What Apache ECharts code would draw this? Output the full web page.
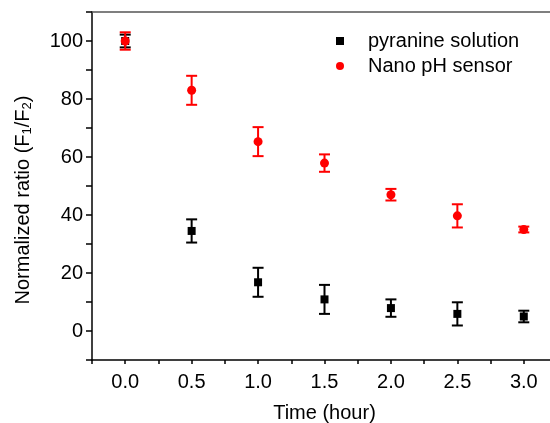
<!DOCTYPE html>
<html>
<head>
<meta charset="utf-8">
<script src="https://cdn.jsdelivr.net/npm/echarts@6/dist/echarts.min.js"></script>
<style>
  html, body { margin: 0; padding: 0; background: #fff; }
  #chart { width: 550px; height: 423px; }
</style>
</head>
<body>
<div id="chart"></div>
<script>
// hours
const times = [0, 0.5, 1.0, 1.5, 2.0, 2.5, 3.0];
// pyranine solution
const pyranineMean = [100, 34.5, 16.8, 10.9, 7.9, 5.9, 5.0];
const pyranineErr = [2.2, 4, 5, 5, 3, 4, 2];
// Nano pH sensor
const sensorMean = [100, 83.0, 65.3, 57.9, 47.0, 39.7, 35.0];
const sensorErr = [3, 5, 5, 3, 2, 4, 1];

const font = "'Liberation Sans', Arial, sans-serif";

function toPoints(means, errs) {
  return times.map((t, i) => [t, means[i], errs[i]]);
}

function errorBar(color) {
  return function (params, api) {
    const x = api.value(0);
    const y = api.value(1);
    const e = api.value(2);
    const hi = api.coord([x, y + e]);
    const lo = api.coord([x, y - e]);
    const w = 5.5;
    const style = { stroke: color, lineWidth: 2, fill: null };
    return {
      type: 'group',
      children: [
        { type: 'line', shape: { x1: hi[0], y1: hi[1], x2: lo[0], y2: lo[1] }, style: style },
        { type: 'line', shape: { x1: hi[0] - w, y1: hi[1], x2: hi[0] + w, y2: hi[1] }, style: style },
        { type: 'line', shape: { x1: lo[0] - w, y1: lo[1], x2: lo[0] + w, y2: lo[1] }, style: style }
      ]
    };
  };
}

const chart = echarts.init(document.getElementById('chart'));
chart.setOption({
  animation: false,
  textStyle: { fontFamily: font },
  grid: { left: 92, top: 12, bottom: 63, right: -7, outerBoundsMode: 'none', containLabel: false },
  legend: {
    orient: 'vertical',
    left: 331,
    top: 26,
    itemWidth: 8,
    itemHeight: 8,
    itemGap: 5,
    textStyle: { fontSize: 20, color: '#000', fontFamily: font, padding: [0, 0, 0, 19] },
    data: [
      { name: 'pyranine solution', icon: 'rect', itemStyle: { color: '#000' } },
      { name: 'Nano pH sensor', icon: 'circle', itemStyle: { color: '#ff0000' } }
    ]
  },
  xAxis: [
    {
      type: 'value',
      min: -0.25,
      max: 3.25,
      interval: 0.25,
      name: 'Time (hour)',
      nameLocation: 'middle',
      nameGap: 43,
      nameTextStyle: { fontSize: 20, color: '#000', fontFamily: font },
      axisLine: { onZero: false, lineStyle: { color: '#000', width: 1.5 } },
      axisTick: { length: 4, lineStyle: { color: '#000', width: 1.5 } },
      axisLabel: {
        fontSize: 20,
        color: '#000',
        margin: 12,
        formatter: v => (Math.abs(v * 2 - Math.round(v * 2)) < 1e-6 && v >= 0 && v <= 3) ? v.toFixed(1) : ''
      },
      splitLine: { show: false }
    },
    {
      type: 'value',
      position: 'top',
      min: -0.25,
      max: 3.25,
      axisLine: { onZero: false, lineStyle: { color: '#555', width: 1.5 } },
      axisTick: { show: false },
      axisLabel: { show: false },
      splitLine: { show: false }
    }
  ],
  yAxis: {
    type: 'value',
    min: -10,
    max: 110,
    interval: 10,
    name: '{a|Normalized ratio (F}{s|1}{a|/F}{s|2}{a|)}',
    nameLocation: 'middle',
    nameGap: 58,
    nameTextStyle: {
      padding: [0, 28, 0, 0],
      rich: {
        a: { fontSize: 20, color: '#000', fontFamily: font, lineHeight: 22 },
        s: { fontSize: 13, color: '#000', fontFamily: font, lineHeight: 13, verticalAlign: 'bottom' }
      }
    },
    axisLine: { onZero: false, lineStyle: { color: '#000', width: 1.5 } },
    axisTick: { length: 6, lineStyle: { color: '#000', width: 1.5 } },
    axisLabel: {
      fontSize: 20,
      color: '#000',
      margin: 9,
      formatter: v => (v >= 0 && v <= 100 && v % 20 === 0) ? String(v) : ''
    },
    splitLine: { show: false }
  },
  series: [
    {
      type: 'custom',
      name: 'pyranine solution',
      renderItem: errorBar('#000'),
      itemStyle: { color: '#000' },
      data: toPoints(pyranineMean, pyranineErr),
      encode: { x: 0, y: 1 },
      z: 2
    },
    {
      type: 'custom',
      name: 'Nano pH sensor',
      renderItem: errorBar('#ff0000'),
      itemStyle: { color: '#ff0000' },
      data: toPoints(sensorMean, sensorErr),
      encode: { x: 0, y: 1 },
      z: 2
    },
    {
      type: 'scatter',
      name: 'pyranine solution',
      symbol: 'rect',
      symbolSize: 8,
      itemStyle: { color: '#000', opacity: 1 },
      data: toPoints(pyranineMean, pyranineErr).map(p => [p[0], p[1]]),
      z: 3
    },
    {
      type: 'scatter',
      name: 'Nano pH sensor',
      symbol: 'circle',
      symbolSize: 9,
      itemStyle: { color: '#ff0000', opacity: 1 },
      data: toPoints(sensorMean, sensorErr).map(p => [p[0], p[1]]),
      z: 4
    }
  ]
});
</script>
</body>
</html>
